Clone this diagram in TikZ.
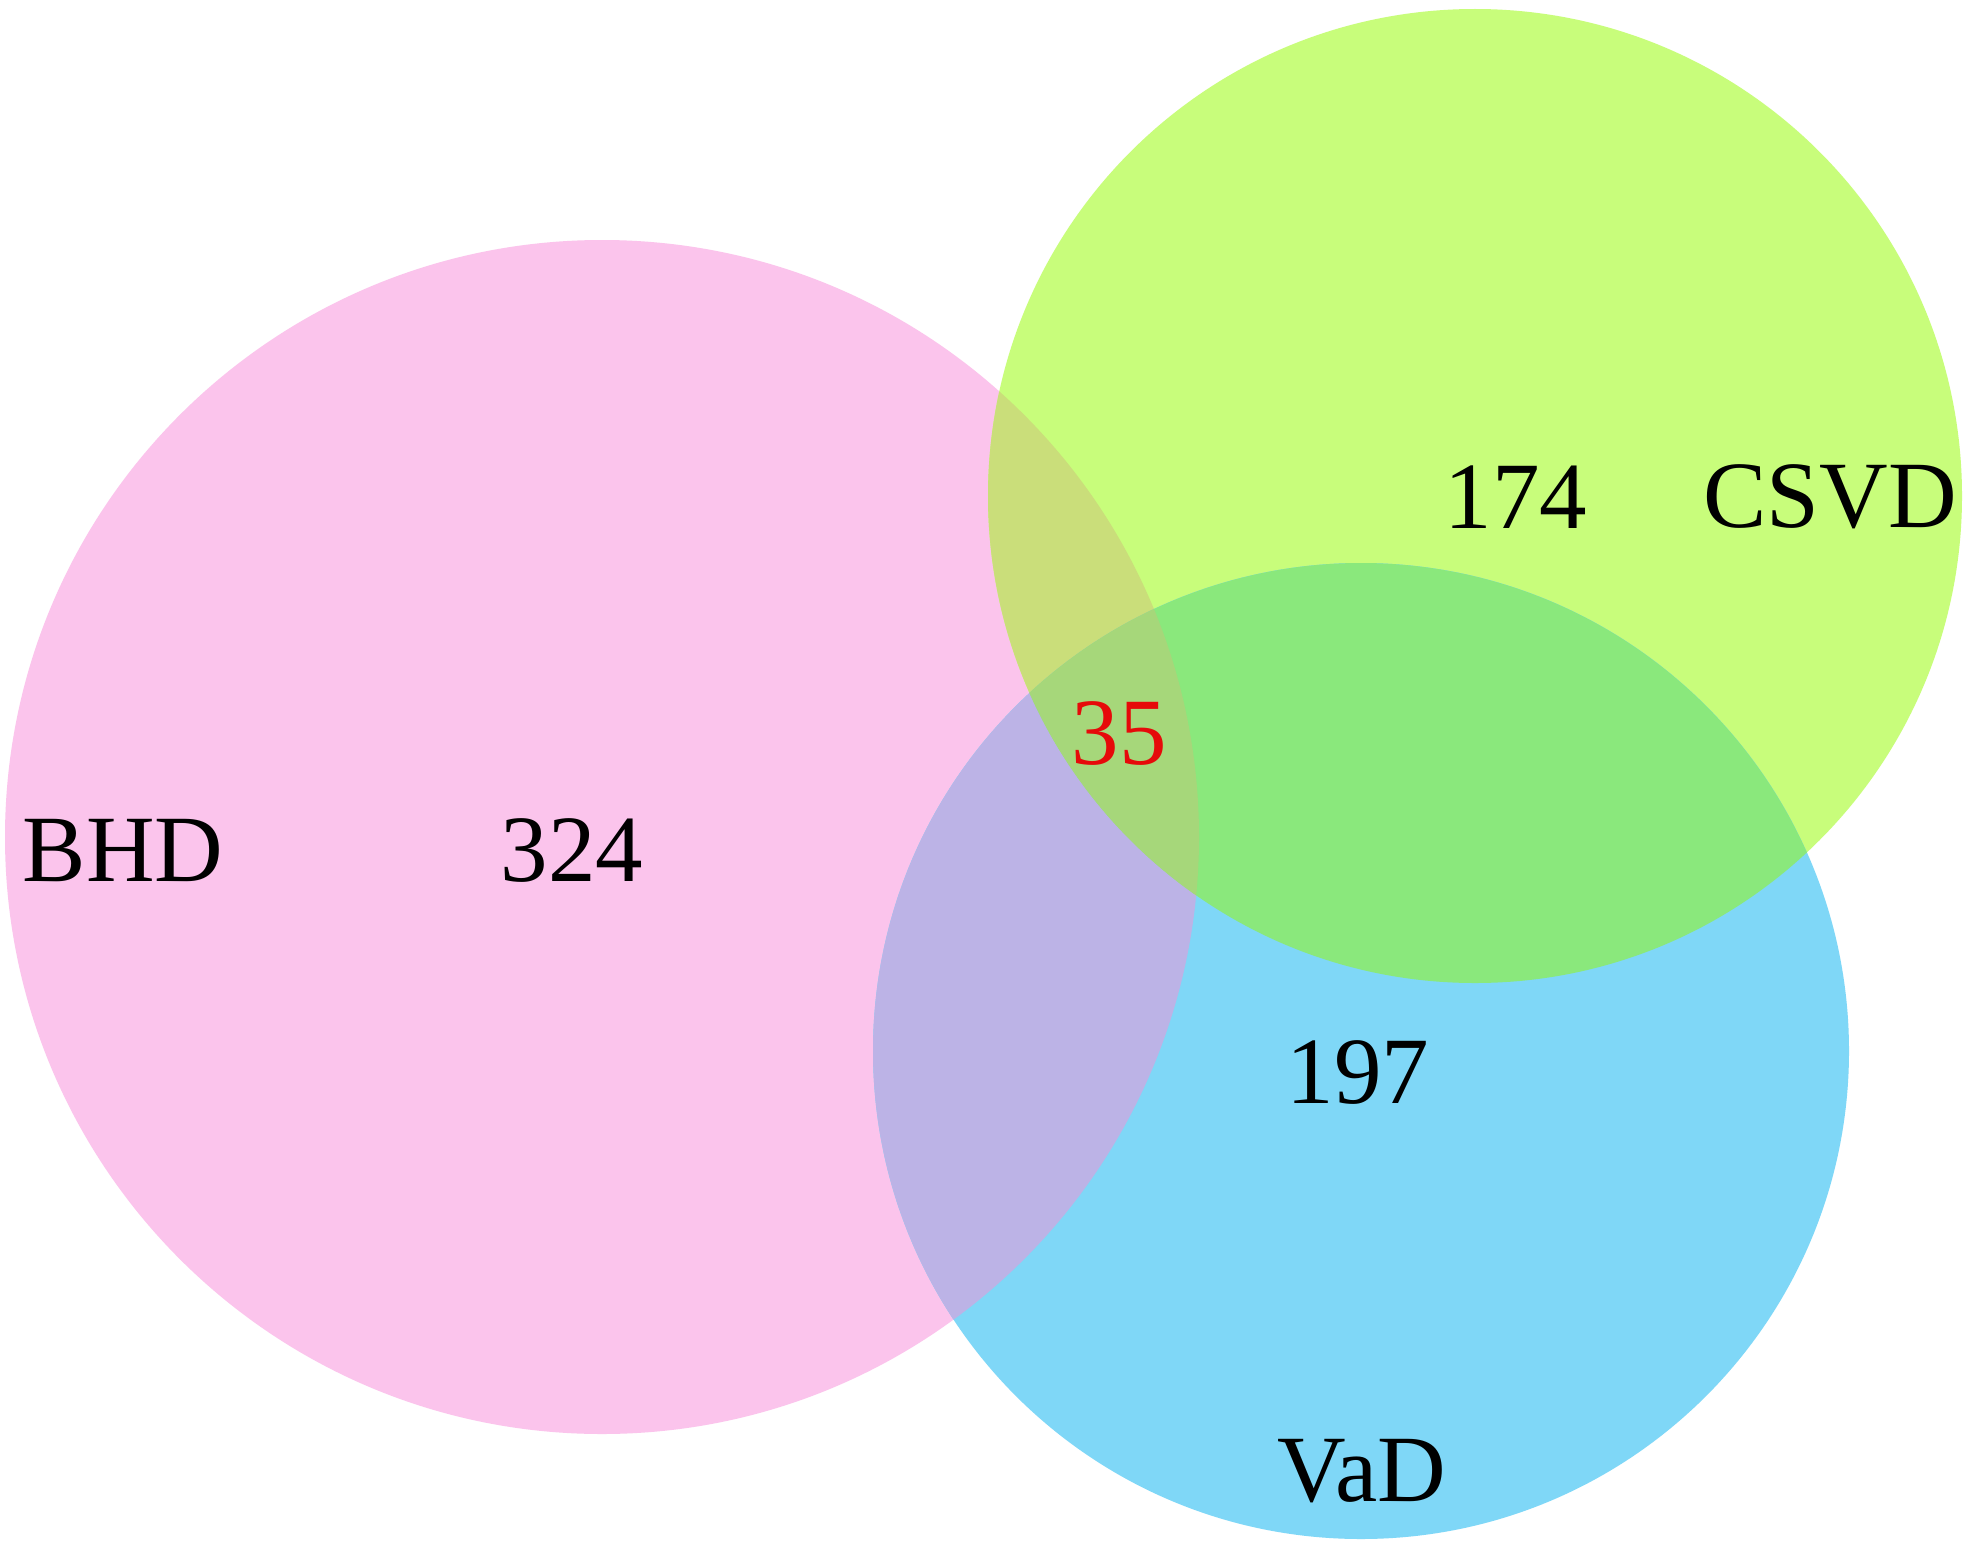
\documentclass[tikz,border=0pt]{standalone}
\usepackage{fontspec}
\setmainfont{Liberation Serif}
\definecolor{cpink}{RGB}{251,196,236}
\definecolor{cgreen}{RGB}{200,253,123}
\definecolor{cblue}{RGB}{127,215,247}
\definecolor{cpg}{RGB}{202,222,122}
\definecolor{cpb}{RGB}{188,179,230}
\definecolor{cgb}{RGB}{138,232,124}
\definecolor{cpgb}{RGB}{166,215,122}
\definecolor{cred}{RGB}{230,10,10}
\tikzset{
  lbl/.style={font=\fontsize{95}{110}\selectfont, text=black, inner sep=0pt, anchor=center},
  redlbl/.style={lbl, text=cred}
}
\newcommand{\pinkc}{(602,837) circle (597)}
\newcommand{\greenc}{(1475,496) circle (487)}
\newcommand{\bluec}{(1361,1051) circle (488)}
\begin{document}
\begin{tikzpicture}[x=1pt,y=-1pt]
\useasboundingbox (0,0) rectangle (1983,1563);
\fill[white] (0,0) rectangle (1983,1563);
\fill[cpink] \pinkc;
\fill[cgreen] \greenc;
\fill[cblue] \bluec;
\begin{scope}
  \clip \pinkc;
  \fill[cpg] \greenc;
  \fill[cpb] \bluec;
\end{scope}
\begin{scope}
  \clip \greenc;
  \fill[cgb] \bluec;
\end{scope}
\begin{scope}
  \clip \pinkc;
  \clip \greenc;
  \fill[cpgb] \bluec;
\end{scope}
\node[lbl] (bhd) at (123,851) {BHD};
\node[lbl] (n324) at (572,851) {324};
\node[lbl] (n174) at (1516,497) {174};
\node[lbl] (csvd) at (1830,497) {CSVD};
\node[redlbl] (n35) at (1119,734) {35};
\node[lbl] (n197) at (1358,1072) {197};
\node[lbl] (vad) at (1362,1471) {VaD};
\end{tikzpicture}
\end{document}
